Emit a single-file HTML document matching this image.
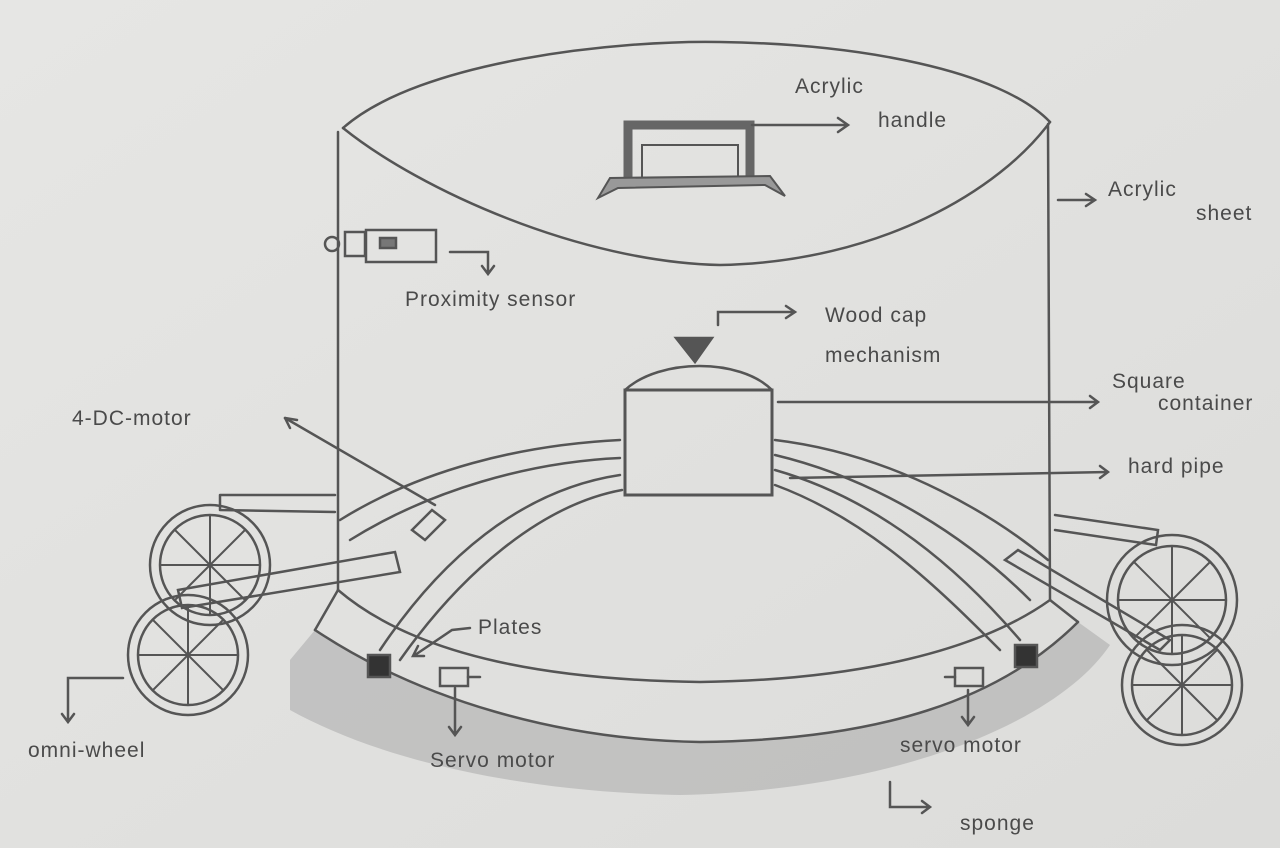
<!DOCTYPE html>
<html><head><meta charset="utf-8"><style>
html,body{margin:0;padding:0;background:#e3e3e1;}
svg{display:block}
text{font-family:"Liberation Sans",sans-serif;fill:#4a4a4a;font-size:21px;letter-spacing:1px}
</style></head><body>
<svg width="1280" height="848" viewBox="0 0 1280 848">
<defs>
<linearGradient id="bg" x1="0" y1="0" x2="1" y2="1"><stop offset="0" stop-color="#e6e6e4"/><stop offset="1" stop-color="#dcdcda"/></linearGradient>
</defs>
<rect width="1280" height="848" fill="url(#bg)"/>
<!-- sponge -->
<path d="M290 660 L315 630 C420 700 560 740 700 742 C880 740 1000 700 1078 622 L1110 645 C1060 720 900 790 680 795 C520 792 380 760 290 710 Z" fill="#aaa" opacity="0.55"/>
<g fill="none" stroke="#555" stroke-width="2.5" stroke-linecap="round">
<path d="M343 128 C420 60 620 40 720 42 C860 44 1000 70 1050 122"/>
<path d="M343 128 C420 190 580 262 720 265 C880 262 1000 190 1050 122"/>
<path d="M338 132 L338 590"/>
<path d="M1048 124 L1050 600"/>
<path d="M338 590 C420 660 560 680 700 682 C860 680 980 650 1050 600"/>
<path d="M338 590 L315 630"/><path d="M1050 600 L1078 622"/>
<path d="M315 630 C420 700 560 740 700 742 C880 740 1000 700 1078 622"/>
<path d="M340 520 C420 470 520 445 620 440"/>
<path d="M775 440 C900 455 1000 520 1048 560"/>
<path d="M350 540 C430 490 530 462 620 458"/>
<path d="M775 455 C880 480 970 540 1030 600"/>
<path d="M380 650 C440 560 520 490 620 475"/>
<path d="M400 660 C460 575 540 505 622 490"/>
<path d="M775 470 C880 500 960 570 1020 640"/>
<path d="M775 485 C870 520 940 590 1000 650"/>
<rect x="625" y="390" width="147" height="105" stroke-width="3"/>
<path d="M625 390 C660 358 740 358 772 390"/>
<path d="M628 178 L628 125 L750 125 L750 178" stroke-width="9" stroke="#666"/>
<path d="M642 178 L642 145 L738 145 L738 178" stroke-width="2"/>
<path d="M598 198 L610 178 L770 176 L785 196 L765 185 L618 188 Z" stroke-width="2" fill="#999"/>
<rect x="366" y="230" width="70" height="32"/>
<rect x="345" y="232" width="20" height="24"/>
<circle cx="332" cy="244" r="7"/>
<rect x="380" y="238" width="16" height="10" fill="#777"/>
<path d="M412 530 L432 510 L445 520 L425 540 Z"/>
<path d="M435 505 L285 418"/><path d="M285 418 l12 2 M285 418 l5 10"/>
<path d="M220 495 L335 495 M220 510 L335 512 M220 495 L220 510"/>
<path d="M178 590 L395 552 L400 572 L182 608 Z"/>
<circle cx="210" cy="565" r="60"/><circle cx="210" cy="565" r="50"/>
<circle cx="188" cy="655" r="60"/><circle cx="188" cy="655" r="50"/>
<g stroke-width="2">
<path d="M210 515 L210 615 M160 565 L260 565 M175 530 L245 600 M245 530 L175 600"/>
<path d="M188 605 L188 705 M138 655 L238 655 M153 620 L223 690 M223 620 L153 690"/>
</g>
<path d="M1055 515 L1158 530 L1156 545 L1055 530"/>
<path d="M1005 560 L1018 550 L1170 640 L1160 650 Z"/>
<circle cx="1172" cy="600" r="65"/><circle cx="1172" cy="600" r="54"/>
<circle cx="1182" cy="685" r="60"/><circle cx="1182" cy="685" r="50"/>
<g stroke-width="2">
<path d="M1172 546 L1172 654 M1118 600 L1226 600 M1134 562 L1210 638 M1210 562 L1134 638"/>
<path d="M1182 635 L1182 735 M1132 685 L1232 685 M1147 650 L1217 720 M1217 650 L1147 720"/>
</g>
<rect x="368" y="655" width="22" height="22" fill="#333"/>
<rect x="1015" y="645" width="22" height="22" fill="#333"/>
<rect x="440" y="668" width="28" height="18"/><path d="M468 677 L480 677"/>
<rect x="955" y="668" width="28" height="18"/><path d="M945 677 L955 677"/>
<path d="M676 338 L712 338 L695 362 Z" fill="#555"/>
<path d="M752 125 L848 125 M838 118 L848 125 L838 132"/>
<path d="M1058 200 L1095 200 M1086 194 L1095 200 L1086 206"/>
<path d="M450 252 L488 252 L488 272 M482 266 L488 274 L494 266"/>
<path d="M718 325 L718 312 L795 312 M786 306 L795 312 L786 318"/>
<path d="M778 402 L1098 402 M1090 396 L1098 402 L1090 408"/>
<path d="M790 478 L1108 472 M1100 466 L1108 472 L1100 478"/>
<path d="M470 628 L452 630 L415 655 M418 646 L413 656 L424 656"/>
<path d="M455 688 L455 735 M449 727 L455 735 L461 727"/>
<path d="M968 690 L968 725 M962 717 L968 725 L974 717"/>
<path d="M123 678 L68 678 L68 722 M62 714 L68 722 L74 714"/>
<path d="M890 782 L890 807 L930 807 M922 801 L930 807 L922 813"/>
</g>
<g>
<text x="795" y="93">Acrylic</text>
<text x="878" y="127">handle</text>
<text x="1108" y="196">Acrylic</text>
<text x="1196" y="220">sheet</text>
<text x="405" y="306" font-size="18">Proximity sensor</text>
<text x="825" y="322">Wood cap</text>
<text x="825" y="362">mechanism</text>
<text x="1112" y="388" font-size="19">Square</text>
<text x="1158" y="410" font-size="19">container</text>
<text x="1128" y="473">hard pipe</text>
<text x="72" y="425" font-size="19">4-DC-motor</text>
<text x="478" y="634" font-size="19">Plates</text>
<text x="28" y="757" font-size="20">omni-wheel</text>
<text x="430" y="767" font-size="19">Servo motor</text>
<text x="900" y="752" font-size="19">servo motor</text>
<text x="960" y="830">sponge</text>
</g>
</svg>
</body></html>
